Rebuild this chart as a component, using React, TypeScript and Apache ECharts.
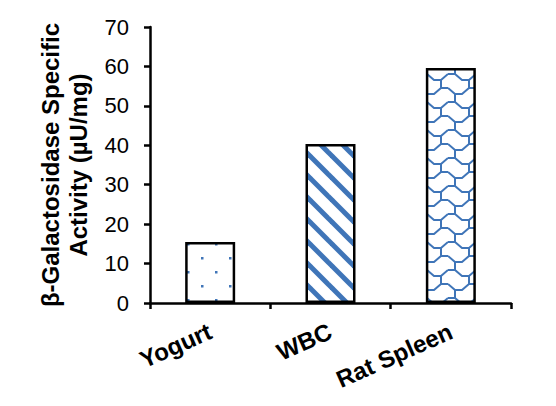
import React, { useRef, useEffect } from "react";
import * as echarts from "echarts";

const categories = ["Yogurt", "WBC", "Rat Spleen"];
const activity = [15.5, 40.3, 59.6];
const yTicks = [0, 10, 20, 30, 40, 50, 60, 70];

const BLUE = "#3f75b8";
const FONT = "Liberation Sans, Arial, sans-serif";

// small canvas tiles used as bar fill patterns
function makeTile(size: number, draw: (ctx: CanvasRenderingContext2D) => void) {
  const c = document.createElement("canvas");
  c.width = size;
  c.height = size;
  const ctx = c.getContext("2d")!;
  ctx.fillStyle = "#fff";
  ctx.fillRect(0, 0, size, size);
  draw(ctx);
  return c;
}

const dotsTile = () =>
  makeTile(28, (ctx) => {
    ctx.fillStyle = BLUE;
    ctx.fillRect(5, 5, 2.5, 2.5);
    ctx.fillRect(19, 19, 2.5, 2.5);
  });

const stripeTile = () =>
  makeTile(22, (ctx) => {
    ctx.strokeStyle = BLUE;
    ctx.lineWidth = 5;
    for (const off of [-22, 0, 22]) {
      ctx.beginPath();
      ctx.moveTo(off - 2, -2);
      ctx.lineTo(off + 24, 24);
      ctx.stroke();
    }
  });

const waveTile = () =>
  makeTile(28, (ctx) => {
    ctx.strokeStyle = BLUE;
    ctx.lineWidth = 2;
    ctx.beginPath();
    ctx.moveTo(0, 4);
    ctx.lineTo(7, 10);
    ctx.lineTo(14, 10);
    ctx.lineTo(21, 4);
    ctx.lineTo(28, 4);
    ctx.moveTo(0, 18);
    ctx.lineTo(7, 18);
    ctx.lineTo(14, 24);
    ctx.lineTo(21, 24);
    ctx.lineTo(28, 18);
    ctx.moveTo(7, 10);
    ctx.lineTo(7, 18);
    ctx.moveTo(21, 4);
    ctx.lineTo(21, -2);
    ctx.moveTo(21, 24);
    ctx.lineTo(21, 30);
    ctx.stroke();
  });

const App = () => {
  const chartRef = useRef<HTMLDivElement>(null);

  useEffect(() => {
    const chart = echarts.init(chartRef.current, null, { renderer: "svg" });
    const fills = [dotsTile(), stripeTile(), waveTile()];
    chart.setOption({
      animation: false,
      backgroundColor: "#fff",
      grid: { left: 150, right: 45, top: 27, bottom: 103 },
      xAxis: {
        type: "category",
        data: categories,
        axisLine: { lineStyle: { color: "#000", width: 2.5 } },
        axisTick: { show: true, length: 6, lineStyle: { color: "#000", width: 2.5 } },
        axisLabel: {
          rotate: 24,
          margin: 27,
          color: "#000",
          fontFamily: FONT,
          fontWeight: "bold",
          fontSize: 24,
        },
      },
      yAxis: {
        type: "value",
        min: 0,
        max: 70,
        interval: 10,
        name: "β-Galactosidase Specific\nActivity (µU/mg)",
        nameLocation: "middle",
        nameGap: 58,
        nameTextStyle: {
          color: "#000",
          fontFamily: FONT,
          fontWeight: "bold",
          fontSize: 24,
          lineHeight: 28,
        },
        splitLine: { show: false },
        axisLine: { show: true, lineStyle: { color: "#000", width: 2.5 } },
        axisTick: { show: true, length: 6, lineStyle: { color: "#000", width: 2.5 } },
        axisLabel: {
          margin: 21,
          color: "#000",
          fontFamily: FONT,
          fontSize: 22,
          formatter: (v: number) => (yTicks.includes(v) ? String(v) : ""),
        },
      },
      series: [
        {
          type: "bar",
          barWidth: 50,
          data: activity.map((v, i) => ({
            value: v,
            itemStyle: {
              color: { image: fills[i], repeat: "repeat" },
              borderColor: "#000",
              borderWidth: 2.5,
            },
          })),
        },
      ],
    });
    return () => {
      chart.dispose();
    };
  }, []);

  return (
    <div
      ref={chartRef}
      style={{ position: "absolute", left: 0, top: 0, width: 556, height: 406 }}
    />
  );
};

export default App;
